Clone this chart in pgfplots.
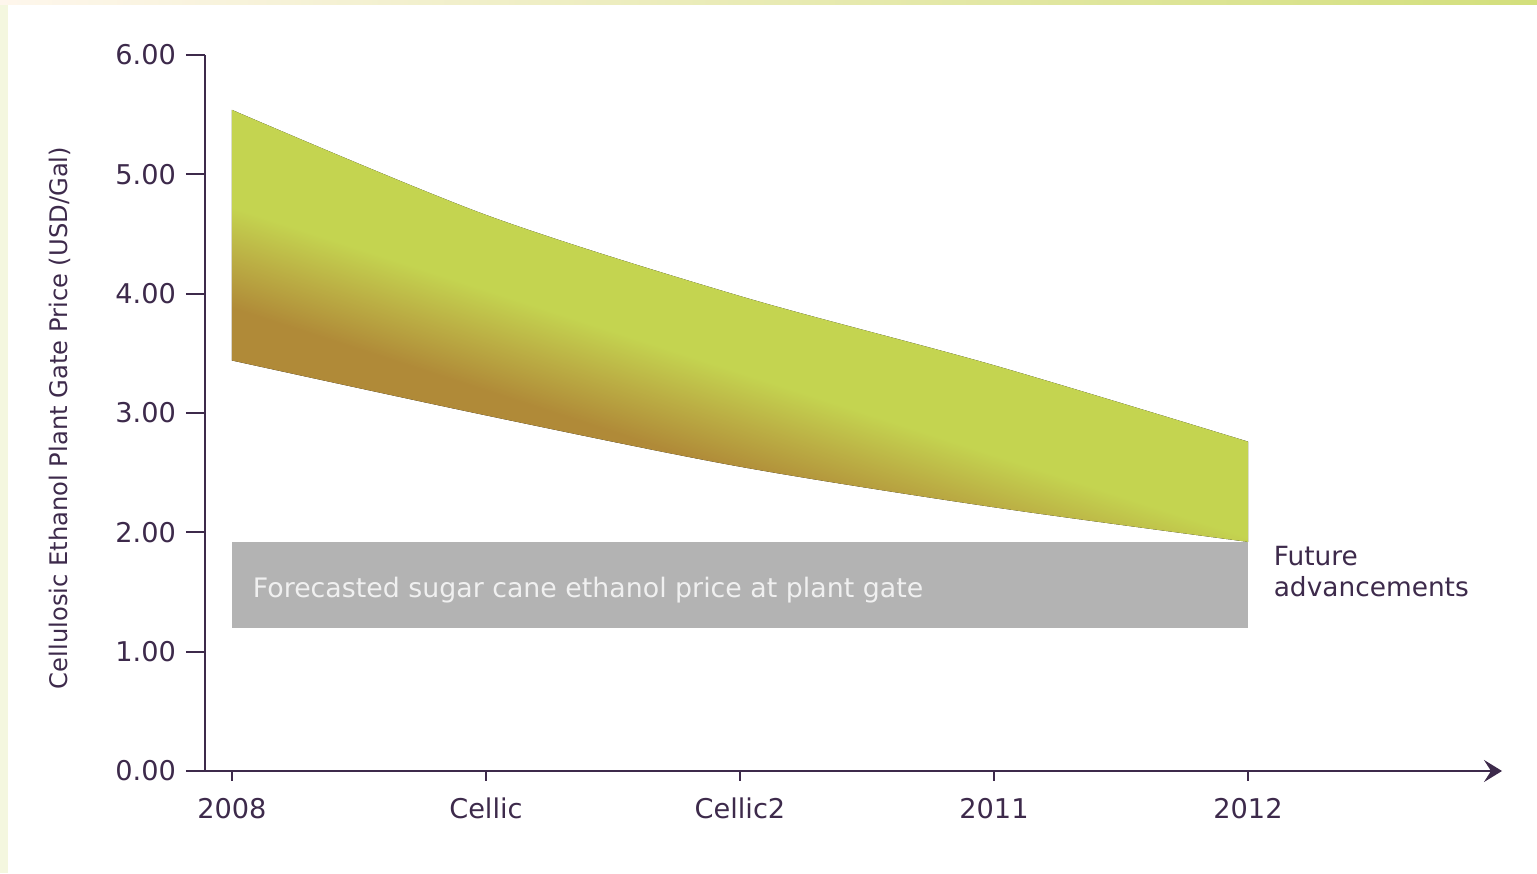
\documentclass[border=0pt]{standalone}
\usepackage{pgfplots}
\pgfplotsset{compat=1.18}
\usepgfplotslibrary{fillbetween}
\usetikzlibrary{arrows.meta}
\usepackage{fontspec}
\setmainfont{DejaVu Sans}
\definecolor{axcol}{HTML}{3D2A4B}
\definecolor{bandgreen}{HTML}{C4D450}
\definecolor{bandmid}{HTML}{BBAE44}
\definecolor{bandbrown}{HTML}{B08A38}
\definecolor{boxgray}{HTML}{B3B3B3}
\pgfdeclareverticalshading{bandshade}{100bp}{color(0bp)=(bandbrown); color(37.8bp)=(bandbrown); color(42bp)=(bandmid); color(46.2bp)=(bandgreen); color(100bp)=(bandgreen)}
\pgfplotstableread{
x upper lower
0 5.54 3.44
1 4.66 2.98
2 3.98 2.55
3 3.40 2.21
4 2.76 1.92
}\banddata
\begin{document}
\begin{tikzpicture}
\path (0pt,0pt) rectangle (768.5pt,436.5pt);
\begin{axis}[
  at={(102.5pt,51pt)}, anchor=south west,
  scale only axis,
  width=648.5pt, height=358pt,
  xmin=-0.106, xmax=5.0,
  ymin=0, ymax=6,
  axis x line=bottom,
  axis y line*=left,
  axis line style={color=axcol, line width=1.3pt},
  x axis line style={-{Stealth[length=9pt,width=11pt,inset=3.5pt]}},
  xtick={0,1,2,3,4},
  xticklabels={2008,Cellic,Cellic2,2011,2012},
  ytick={0,1,2,3,4,5,6},
  yticklabel={\pgfmathprintnumber[fixed,fixed zerofill,precision=2]{\tick}},
  /pgf/number format/assume math mode=true,
  tick align=outside,
  major tick length=9.5pt,
  x tick style={/pgfplots/major tick length=5pt},
  tick style={color=axcol, line width=0.9pt},
  ticklabel style={font=\fontsize{13.6}{15}\selectfont, color=axcol},
  xticklabel style={yshift=-0.5pt},
  yticklabel style={xshift=-1.5pt},
  ylabel={Cellulosic Ethanol Plant Gate Price (USD/Gal)},
  ylabel style={at={(axis description cs:-0.112,0.493)}, anchor=center, font=\fontsize{12.1}{14}\selectfont, color=axcol},
  clip=false,
]
\addplot[name path=upper, draw=none, smooth, tension=0.5] table[x=x,y=upper] {\banddata};
\addplot[name path=lower, draw=none, smooth, tension=0.5] table[x=x,y=lower] {\banddata};
\addplot[shading=bandshade, shading angle=-18] fill between[of=upper and lower];
\addplot[fill=boxgray, draw=none] coordinates {(0,1.20) (4,1.20) (4,1.92) (0,1.92)} -- cycle;
\node[anchor=west, text=white!94!black, font=\fontsize{13.4}{15}\selectfont] at (axis cs:0.055,1.52) {Forecasted sugar cane ethanol price at plant gate};
\node[anchor=north west, align=left, text=axcol, font=\fontsize{13.2}{15.5}\selectfont, inner sep=0pt] at (axis cs:4.1,1.89) {Future\\advancements};
\end{axis}
\shade[left color=bandgreen!22!orange!8!white, right color=bandgreen!75!white] (0pt,434pt) rectangle (768.5pt,436.5pt);
\fill[color=bandgreen!18!white] (0pt,0pt) rectangle (4pt,434pt);
\end{tikzpicture}
\end{document}
